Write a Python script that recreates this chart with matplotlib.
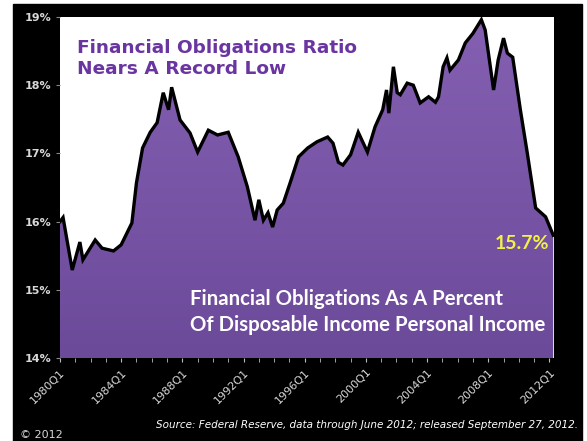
import numpy as np
import matplotlib
matplotlib.use("Agg")
import matplotlib.pyplot as plt
from matplotlib.colors import LinearSegmentedColormap

# Financial obligations ratio, % of disposable personal income
years = [1980.0, 1980.2, 1980.8, 1981.3, 1981.5, 1982.3, 1982.75, 1983.5, 1984.0,
         1984.7, 1985.0, 1985.4, 1985.9, 1986.35, 1986.75, 1987.1, 1987.3, 1987.85,
         1988.5, 1989.0, 1989.7, 1990.3, 1991.0, 1991.65, 1992.25, 1992.75, 1993.0,
         1993.3, 1993.6, 1993.9, 1994.2, 1994.6, 1995.05, 1995.6, 1996.2, 1996.8,
         1997.5, 1997.85, 1998.2, 1998.5, 1999.0, 1999.5, 2000.1, 2000.6, 2001.1,
         2001.35, 2001.5, 2001.8, 2002.05, 2002.25, 2002.7, 2003.1, 2003.55, 2004.1,
         2004.55, 2004.75, 2005.05, 2005.3, 2005.5, 2006.05, 2006.5, 2007.0, 2007.55,
         2007.8, 2008.35, 2008.65, 2009.0, 2009.25, 2009.6, 2010.1, 2010.55, 2011.1,
         2011.75, 2012.25]
ratio = [16.00, 16.06, 15.29, 15.70, 15.44, 15.73, 15.61, 15.57, 15.66,
         15.98, 16.57, 17.08, 17.31, 17.45, 17.89, 17.64, 17.97, 17.49,
         17.30, 17.02, 17.34, 17.27, 17.31, 16.95, 16.51, 16.02, 16.32,
         16.02, 16.13, 15.92, 16.17, 16.27, 16.57, 16.95, 17.08, 17.17,
         17.24, 17.15, 16.87, 16.83, 16.98, 17.31, 17.02, 17.39, 17.64,
         17.93, 17.59, 18.27, 17.89, 17.86, 18.03, 18.00, 17.74, 17.83,
         17.75, 17.83, 18.27, 18.40, 18.22, 18.37, 18.62, 18.76, 18.96,
         18.81, 17.93, 18.37, 18.69, 18.47, 18.41, 17.64, 17.01, 16.20,
         16.07, 15.80]

tick_years = [1980, 1984, 1988, 1992, 1996, 2000, 2004, 2008, 2012]
tick_labels = ["1980Q1", "1984Q1", "1988Q1", "1992Q1", "1996Q1",
               "2000Q1", "2004Q1", "2008Q1", "2012Q1"]
y_ticks = [14, 15, 16, 17, 18, 19]

fig = plt.figure(figsize=(5.87, 4.41), dpi=100)
fig.patch.set_facecolor("white")
# black panel behind everything
fig.add_artist(plt.Rectangle((13 / 587, 0), (582 - 13) / 587, 1 - 4 / 441,
                             transform=fig.transFigure, color="black", zorder=-10))

ax = fig.add_axes([60 / 587, 1 - 358 / 441, (554 - 60) / 587, (358 - 17) / 441])
ax.set_facecolor("white")
ax.set_xlim(1980.0, 2012.3)
ax.set_ylim(14, 19)

# gradient purple fill under the curve
x0, x1 = ax.get_xlim()
poly = ax.fill_between(years, ratio, 14, color="none", lw=0)
cmap = LinearSegmentedColormap.from_list("purp", ["#6c4a9a", "#8560b2"])
grad = np.linspace(0, 1, 256).reshape(-1, 1)
img = ax.imshow(grad, cmap=cmap, aspect="auto", origin="lower",
                extent=[x0, x1, 14, 19], zorder=1)
img.set_clip_path(poly.get_paths()[0], transform=ax.transData)
ax.plot(years, ratio, color="black", lw=2.4, zorder=3, solid_joinstyle="miter")

ax.set_yticks(y_ticks)
ax.set_yticklabels([f"{v}%" for v in y_ticks], color="#d8d8d8", fontsize=8,
                   fontweight="bold")
ax.set_xticks(tick_years)
ax.set_xticklabels(tick_labels, rotation=45, ha="right", rotation_mode="anchor",
                   color="#d8d8d8", fontsize=8)
ax.set_xticks(np.arange(1980, 2013), minor=True)
ax.tick_params(axis="x", which="both", colors="#bbbbbb", length=3, direction="out")
ax.tick_params(axis="x", which="major", labelcolor="#d8d8d8")
ax.tick_params(axis="y", colors="#888888", length=3, labelcolor="#d8d8d8")
for s in ax.spines.values():
    s.set_visible(False)

ax.text(0.035, 0.935, "Financial Obligations Ratio\nNears A Record Low",
        transform=ax.transAxes, color="#6a35a0", fontsize=13.3,
        fontweight="bold", va="top", ha="left", linespacing=1.2, zorder=5)
ax.text(0.99, 0.335, "15.7%", transform=ax.transAxes, color="#f2f04a",
        fontsize=14, fontweight="bold", family="Lato", ha="right", va="center",
        zorder=5)
ax.text(0.263, 0.135,
        "Financial Obligations As A Percent\nOf Disposable Income Personal Income",
        transform=ax.transAxes, color="white", fontsize=14.7, fontweight="bold",
        family="Lato", ha="left", va="center", linespacing=1.35, zorder=5)

fig.text(578 / 587, 1 - 425 / 441,
         "Source: Federal Reserve, data through June 2012; released September 27, 2012.",
         color="white", fontsize=7.5, style="italic", ha="right", va="center")
fig.text(20 / 587, 0.002, "\u00a9 2012", color="#d8d8d8", fontsize=8,
         ha="left", va="bottom")

fig.savefig("out.png", dpi=100, facecolor=fig.get_facecolor())
